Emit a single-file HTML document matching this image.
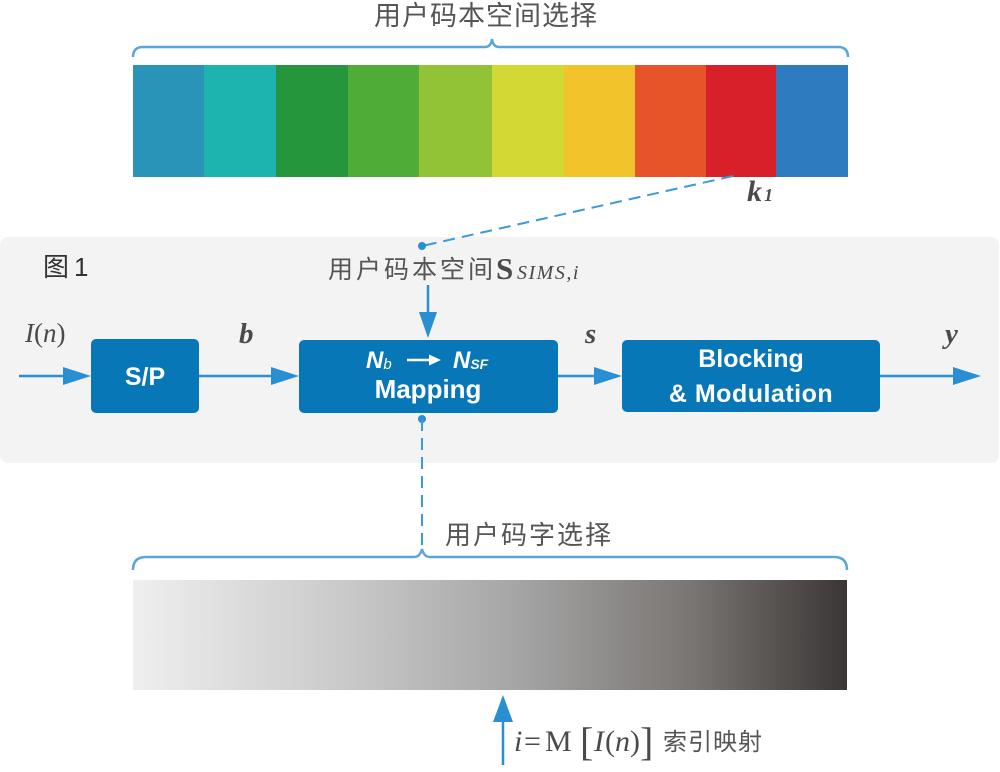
<!DOCTYPE html>
<html>
<head>
<meta charset="utf-8">
<style>
  html,body{margin:0;padding:0;background:#ffffff;}
  body{width:1000px;height:772px;overflow:hidden;}
  svg{display:block;}
  .cjk{font-family:"Liberation Sans","Noto Sans CJK SC",sans-serif;fill:#555555;}
  .math{font-family:"Liberation Serif","DejaVu Serif",serif;fill:#4a4a4a;}
  .box{font-family:"Liberation Sans","DejaVu Sans",sans-serif;fill:#ffffff;}
</style>
</head>
<body>
<svg width="1000" height="772" viewBox="0 0 1000 772" xmlns="http://www.w3.org/2000/svg">
  <defs>
    <linearGradient id="gray" x1="0" y1="0" x2="1" y2="0">
      <stop offset="0" stop-color="#efefef"/>
      <stop offset="0.3" stop-color="#c9c9c9"/>
      <stop offset="0.55" stop-color="#a3a3a3"/>
      <stop offset="0.78" stop-color="#7a7673"/>
      <stop offset="1" stop-color="#3b3635"/>
    </linearGradient>
  </defs>

  <!-- Top title -->
  <text class="cjk" x="374" y="25" font-size="27" letter-spacing="1">用户码本空间选择</text>

  <!-- Top brace -->
  <path d="M133,57 Q133,47 143,47 L485,47 Q491,47 492,39 Q493,47 499,47 L838,47 Q848,47 848,57" fill="none" stroke="#5aa6d8" stroke-width="2.5"/>

  <!-- Color stripes -->
  <rect x="133" y="65" width="72" height="112" fill="#2a94b8"/>
  <rect x="204" y="65" width="73" height="112" fill="#1db4b0"/>
  <rect x="276" y="65" width="73" height="112" fill="#25963b"/>
  <rect x="348" y="65" width="72" height="112" fill="#4fad37"/>
  <rect x="419" y="65" width="74" height="112" fill="#92c337"/>
  <rect x="492" y="65" width="73" height="112" fill="#d4d834"/>
  <rect x="564" y="65" width="72" height="112" fill="#f3c32b"/>
  <rect x="635" y="65" width="72" height="112" fill="#e8542a"/>
  <rect x="706" y="65" width="71" height="112" fill="#d7202a"/>
  <rect x="776" y="65" width="72" height="112" fill="#2f7bbf"/>

  <!-- k1 label -->
  <text class="math" x="747" y="201" font-size="30" font-weight="bold" font-style="italic">k</text>
  <text class="math" x="764" y="201" font-size="18" font-style="italic" font-weight="bold">1</text>

  <!-- Gray panel -->
  <rect x="0" y="237" width="999" height="226" rx="8" ry="8" fill="#f3f3f3"/>

  <!-- Dashed line from stripe to panel label -->
  <line x1="733" y1="176" x2="422" y2="246" stroke="#3d9ad8" stroke-width="2" stroke-dasharray="12 7"/>
  <circle cx="422" cy="246" r="4" fill="#2a8fd2"/>

  <!-- 图1 -->
  <text class="cjk" x="43" y="276" font-size="26" style="fill:#333333" letter-spacing="5">图1</text>

  <!-- Panel label -->
  <text class="cjk" x="328" y="278" font-size="25" letter-spacing="3">用户码本空间</text>
  <text class="math" x="496" y="279" font-size="31" font-weight="bold">S</text>
  <text class="math" x="517" y="279" font-size="20" font-style="italic" letter-spacing="1.5">SIMS,i</text>

  <!-- Vertical arrow into Mapping -->
  <line x1="428" y1="285" x2="428" y2="316" stroke="#2a8fd2" stroke-width="2.5"/>
  <polygon points="419,312 437,312 428,338" fill="#2a8fd2"/>

  <!-- Signal labels -->
  <text class="math" x="25" y="342" font-size="27"><tspan font-style="italic">I</tspan>(<tspan font-style="italic">n</tspan>)</text>
  <text class="math" x="239" y="343" font-size="29" font-weight="bold" font-style="italic">b</text>
  <text class="math" x="585" y="343" font-size="29" font-weight="bold" font-style="italic">s</text>
  <text class="math" x="945" y="343" font-size="29" font-weight="bold" font-style="italic">y</text>

  <!-- Horizontal arrows -->
  <g stroke="#2a8fd2" stroke-width="2.5">
    <line x1="19" y1="376" x2="66" y2="376"/>
    <line x1="199" y1="376" x2="274" y2="376"/>
    <line x1="558" y1="376" x2="597" y2="376"/>
    <line x1="880" y1="376" x2="956" y2="376"/>
  </g>
  <g fill="#2a8fd2">
    <polygon points="63,367 91,376 63,385"/>
    <polygon points="271,367 299,376 271,385"/>
    <polygon points="594,367 622,376 594,385"/>
    <polygon points="953,367 981,376 953,385"/>
  </g>

  <!-- Boxes -->
  <rect x="91" y="339" width="108" height="74" rx="5" ry="5" fill="#0877b8"/>
  <rect x="299" y="340" width="259" height="73" rx="5" ry="5" fill="#0877b8"/>
  <rect x="622" y="340" width="258" height="72" rx="5" ry="5" fill="#0877b8"/>

  <!-- S/P -->
  <text class="box" x="145" y="385" font-size="25" font-weight="bold" text-anchor="middle">S/P</text>

  <!-- Nb -> NSF -->
  <text class="box" x="366" y="368" font-size="24" font-weight="bold" font-style="italic">N<tspan font-size="15" font-weight="normal" dy="1">b</tspan></text>
  <line x1="407" y1="360" x2="431" y2="360" stroke="#ffffff" stroke-width="2.4"/>
  <polygon points="429,354.5 441,360 429,365.5" fill="#ffffff"/>
  <text class="box" x="453" y="368" font-size="24" font-weight="bold" font-style="italic">N<tspan font-size="14" font-weight="bold" dy="1">SF</tspan></text>
  <text class="box" x="428" y="398" font-size="26" font-weight="bold" text-anchor="middle">Mapping</text>

  <!-- Blocking & Modulation -->
  <text class="box" x="751" y="367" font-size="25" font-weight="bold" text-anchor="middle">Blocking</text>
  <text class="box" x="751" y="402" font-size="25" font-weight="bold" text-anchor="middle" letter-spacing="0.5">&amp; Modulation</text>

  <!-- Dashed line down to codeword selection -->
  <circle cx="422" cy="419" r="4" fill="#2a8fd2"/>
  <line x1="422" y1="419" x2="422" y2="549" stroke="#3d9ad8" stroke-width="2" stroke-dasharray="12 7"/>

  <!-- Codeword selection label -->
  <text class="cjk" x="445" y="544" font-size="26" letter-spacing="2">用户码字选择</text>

  <!-- Bottom brace -->
  <path d="M133,570 Q133,557 146,557 L414,557 Q420,557 422,549 Q424,557 430,557 L834,557 Q847,557 847,570" fill="none" stroke="#5aa6d8" stroke-width="2.5"/>

  <!-- Gray gradient bar -->
  <rect x="133" y="580" width="714" height="110" fill="url(#gray)"/>

  <!-- Bottom arrow -->
  <line x1="503" y1="765" x2="503" y2="718" stroke="#2a8fd2" stroke-width="2.5"/>
  <polygon points="493,722 513,722 503,695" fill="#2a8fd2"/>

  <!-- Index mapping label -->
  <text class="math" font-size="30" y="751">
    <tspan x="514" font-style="italic">i</tspan>
    <tspan x="524">=</tspan>
    <tspan x="545">M</tspan>
  </text>
  <text class="math" font-size="40" y="755"><tspan x="580">[</tspan><tspan x="640">]</tspan></text>
  <text class="math" font-size="30" y="751">
    <tspan x="594" font-style="italic">I</tspan>
    <tspan x="605">(</tspan>
    <tspan x="615" font-style="italic">n</tspan>
    <tspan x="630">)</tspan>
  </text>
  <text class="cjk" x="663" y="750" font-size="24" letter-spacing="1">索引映射</text>
</svg>
</body>
</html>
